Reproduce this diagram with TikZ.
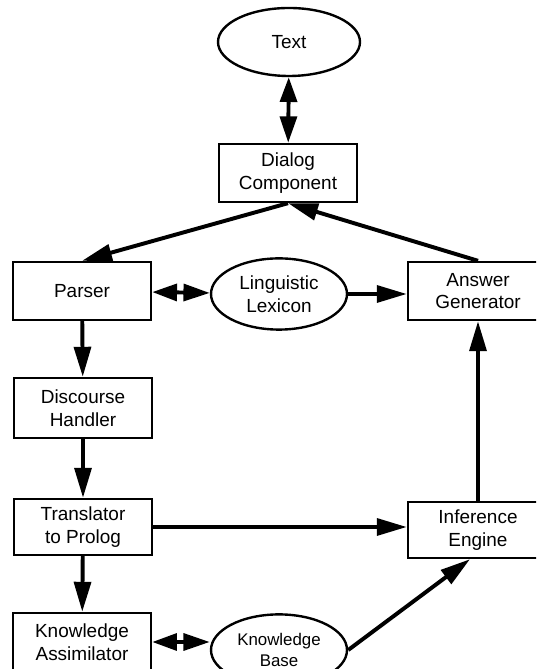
\documentclass[tikz,border=0pt]{standalone}
\usepackage{fontspec}
\setmainfont{Liberation Sans}
\usetikzlibrary{arrows.meta,shapes.geometric}

\begin{document}
\begin{tikzpicture}[->,>={Triangle[length=0.75cm,width=0.42cm]},
    box/.style = {rectangle,
          draw,
          line width = 1.7pt,
          align = center,
          font = \fontsize{13.5pt}{16pt}\selectfont,
          minimum width = 3.45cm,
          minimum height = 1.45cm},
    oval/.style = {ellipse,
          draw,
          line width = 1.7pt,
          align = center,
          inner sep = 0pt,
          font = \fontsize{13.5pt}{16pt}\selectfont,
          minimum width = 3.4cm,
          minimum height = 1.78cm},
    both/.style = {{Triangle[length=0.62cm,width=0.42cm]}-{Triangle[length=0.66cm,width=0.42cm]}}]

    \useasboundingbox (0,0) rectangle (13.4,16.725);
    \clip (0,0) rectangle (13.4,16.725);

    \node[oval,
          minimum width = 3.55cm,
          minimum height = 1.7cm
          ] (text) at (7.225,15.675) {Text};

    \node[box] (dialog) at (7.2,12.4) {Dialog\\Component};

    \node[box] (parser) at (2.05,9.45) {Parser};

    \node[oval] (lexicon) at (6.975,9.375) {Linguistic\\Lexicon};

    \node[box,
          minimum width = 3.5cm
          ] (answer) at (11.95,9.45) {Answer\\Generator};

    \node[box,
          minimum height = 1.5cm
          ] (discourse) at (2.075,6.525) {Discourse\\Handler};

    \node[box,
          minimum height = 1.4cm
          ] (translator) at (2.075,3.55) {Translator\\to Prolog};

    \node[box,
          minimum width = 3.5cm,
          minimum height = 1.4cm
          ] (inference) at (11.95,3.475) {Inference\\Engine};

    \node[box] (assim) at (2.05,0.675) {Knowledge\\Assimilator};

    \node[oval,
          font = \fontsize{12pt}{15pt}\selectfont
          ] (kbase) at (6.975,0.475) {Knowledge\\Base};

    \path[line width = 2.8pt]
    %top
    (text) edge [both] node [right] {} (dialog)
    (dialog.south) edge [] node [right] {} (parser.north)
    (answer.north) edge [] node [right] {} (dialog.south)
    %middle row
    (parser) edge [both] node [right] {} (lexicon)
    (lexicon.east) edge [] node [right] {} (answer.west |- lexicon.east)
    %left column
    (parser) edge [] node [right] {} (discourse)
    (discourse) edge [] node [right] {} (translator)
    (translator) edge [] node [right] {} (assim)
    (translator.east) edge [] node [right] {} (inference.west |- translator.east)
    %bottom row
    (assim.east) edge [both] node [right] {} (kbase.west |- assim.east)
    (kbase.east) edge [] node [right] {} ([xshift=-0.2cm]inference.south)
    (inference) edge [] node [right] {} (answer) ;

\end{tikzpicture}
\end{document}
